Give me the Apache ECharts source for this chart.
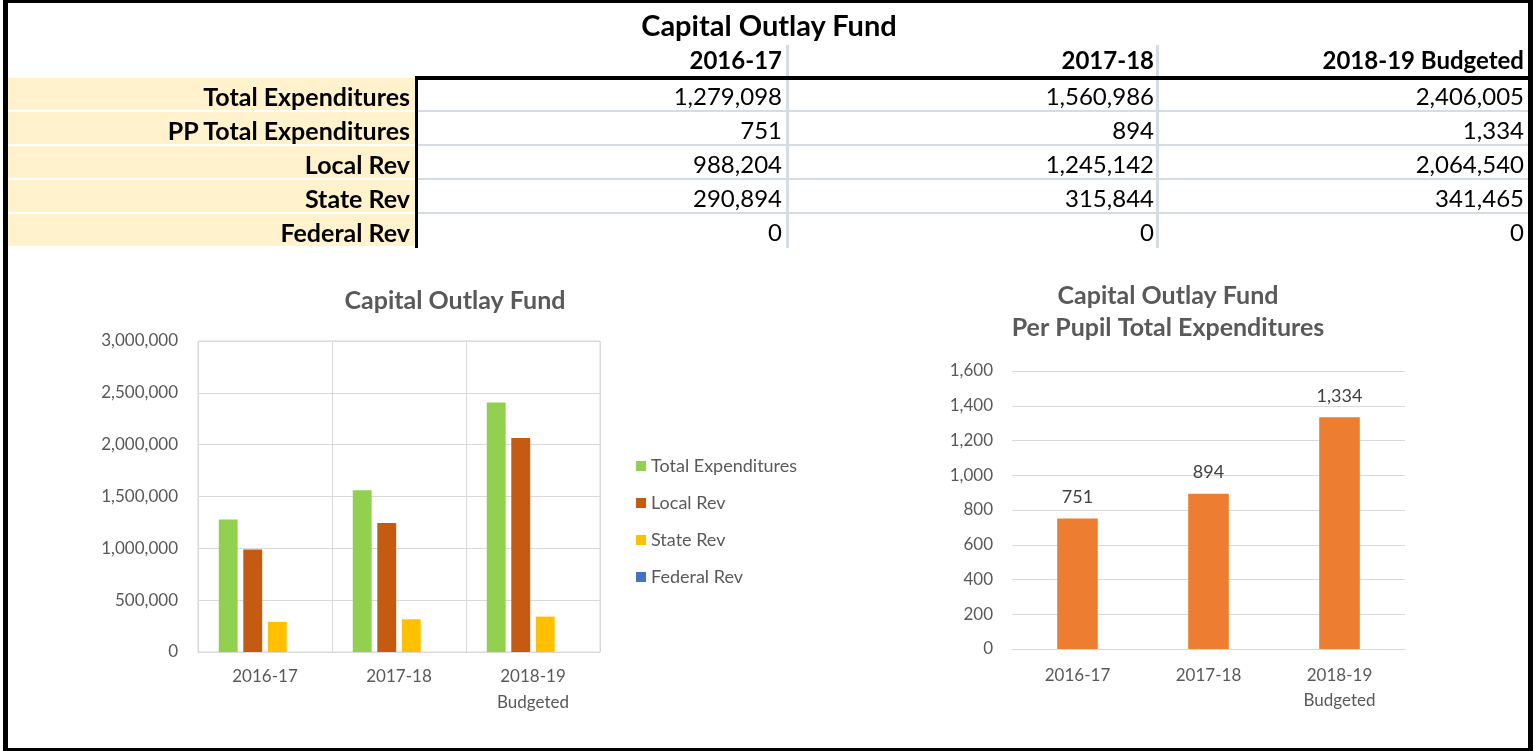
<!DOCTYPE html>
<html><head><meta charset="utf-8">
<script src="https://cdn.jsdelivr.net/npm/echarts@6/dist/echarts.min.js"></script>
<style>
html,body{margin:0;padding:0;background:#fff;}
#wrap{position:relative;width:1539px;height:751px;overflow:hidden;font-family:Lato,'Open Sans',sans-serif;color:#000;}
#chart{position:absolute;left:0;top:0;width:1539px;height:751px;}
#frame{position:absolute;left:3px;top:0;width:1530px;height:751px;box-sizing:border-box;border:solid #000;border-width:3px 5px 3px 5px;pointer-events:none;}
.abs{position:absolute;}
.txt{position:absolute;white-space:nowrap;line-height:34px;height:34px;}
</style>
</head><body>
<div id="wrap">
<div id="chart"></div>
<div id="table"></div>
<div id="frame"></div>
</div>
<script>
// ---- data ----
const tableTitle = 'Capital Outlay Fund';
const years = ['2016-17', '2017-18', '2018-19 Budgeted'];
const axisCats = ['2016-17', '2017-18', '2018-19\nBudgeted'];
const rowLabels = ['Total Expenditures', 'PP Total Expenditures', 'Local Rev', 'State Rev', 'Federal Rev'];
const totalExp = [1279098, 1560986, 2406005];
const ppTotalExp = [751, 894, 1334];
const localRev = [988204, 1245142, 2064540];
const stateRev = [290894, 315844, 341465];
const federalRev = [0, 0, 0];
const chart1Title = 'Capital Outlay Fund';
const chart2Title = 'Capital Outlay Fund\nPer Pupil Total Expenditures';

const fmt = v => Number(v).toLocaleString('en-US');
const rows = [totalExp, ppTotalExp, localRev, stateRev, federalRev];

// ---- table (HTML) ----
const T = document.getElementById('table');
function add(html, style, cls) {
  const d = document.createElement('div');
  d.className = cls || 'abs';
  Object.assign(d.style, style);
  if (html !== null) d.textContent = html;
  T.appendChild(d);
  return d;
}
const colRight = [782, 1154, 1524];
const rowTop0 = 78, rowH = 34;
// title
add(tableTitle, {left: '519px', width: '500px', top: '8px', textAlign: 'center', fontWeight: '700', fontSize: '29px'}, 'txt');
// header
years.forEach((y, i) => add(y, {right: (1539 - colRight[i]) + 'px', top: '43px', fontWeight: '700', fontSize: '24px'}, 'txt'));
// cream label cells
rowLabels.forEach((l, r) => {
  add(null, {left: '8px', width: '407px', top: (rowTop0 + r * rowH) + 'px', height: (rowH - 2) + 'px', background: '#FFF2CC'});
});
// row separators in data area
for (let r = 1; r < 5; r++) {
  add(null, {left: '418px', width: '1110px', top: (rowTop0 + r * rowH - 2) + 'px', height: '2px', background: '#D6DCE4'});
}
// column separators
[786, 1156].forEach(x => add(null, {left: x + 'px', width: '3px', top: '45px', height: '203px', background: '#D6DCE4'}));
// thick black lines
add(null, {left: '415px', width: '1113px', top: '76px', height: '4px', background: '#000'});
add(null, {left: '415px', width: '3px', top: '76px', height: '172px', background: '#000'});
// labels + values
rowLabels.forEach((l, r) => {
  const top = (rowTop0 + r * rowH + 1) + 'px';
  add(l, {right: (1539 - 410) + 'px', top: top, fontWeight: '700', fontSize: '25px'}, 'txt');
  rows[r].forEach((v, c) => add(fmt(v), {right: (1539 - colRight[c]) + 'px', top: top, fontSize: '24px'}, 'txt'));
});

// ---- charts ----
const grey = '#595959';
const gridCol = '#D9D9D9';
const font = 'Lato';
const chart = echarts.init(document.getElementById('chart'), null, {renderer: 'canvas'});
chart.setOption({
  animation: false,
  textStyle: {fontFamily: font},
  title: [
    {text: chart1Title, left: 450, top: 283, textAlign: 'center',
     textStyle: {fontFamily: font, fontWeight: 'bold', fontSize: 25, color: grey}},
    {text: chart2Title, left: 1163, top: 275, textAlign: 'center',
     textStyle: {fontFamily: font, fontWeight: 'bold', fontSize: 25, color: grey, lineHeight: 32}}
  ],
  legend: {
    data: ['Total Expenditures', 'Local Rev', 'State Rev', 'Federal Rev'],
    orient: 'vertical', left: 631, top: 452, itemWidth: 10, itemHeight: 10, itemGap: 19,
    icon: 'rect',
    textStyle: {color: grey, fontSize: 18, fontFamily: font, lineHeight: 18}
  },
  grid: [
    {left: 198, top: 341, width: 402, height: 311, show: true, borderColor: gridCol, borderWidth: 1},
    {left: 1012, top: 371, width: 393, height: 278}
  ],
  xAxis: [
    {type: 'category', gridIndex: 0, data: axisCats,
     axisLine: {lineStyle: {color: gridCol}}, axisTick: {show: false},
     splitLine: {show: true, lineStyle: {color: gridCol}},
     axisLabel: {color: grey, fontSize: 17, margin: 12, lineHeight: 26, fontFamily: font}},
    {type: 'category', gridIndex: 1, data: axisCats,
     axisLine: {lineStyle: {color: gridCol}}, axisTick: {show: false},
     axisLabel: {color: grey, fontSize: 17, margin: 14, lineHeight: 25, fontFamily: font}}
  ],
  yAxis: [
    {type: 'value', gridIndex: 0, min: 0, max: 3000000, interval: 500000,
     axisLine: {show: false}, axisTick: {show: false},
     splitLine: {lineStyle: {color: gridCol}},
     axisLabel: {color: grey, fontSize: 17, margin: 20, formatter: v => fmt(v), fontFamily: font}},
    {type: 'value', gridIndex: 1, min: 0, max: 1600, interval: 200,
     axisLine: {show: false}, axisTick: {show: false},
     splitLine: {lineStyle: {color: gridCol}},
     axisLabel: {color: grey, fontSize: 17, margin: 19, formatter: v => fmt(v), fontFamily: font}}
  ],
  series: [
    {name: 'Total Expenditures', type: 'bar', xAxisIndex: 0, yAxisIndex: 0, data: totalExp,
     itemStyle: {color: '#92D050'}, barGap: '30%', barCategoryGap: '31%'},
    {name: 'Local Rev', type: 'bar', xAxisIndex: 0, yAxisIndex: 0, data: localRev,
     itemStyle: {color: '#C55A11'}, barGap: '30%', barCategoryGap: '31%'},
    {name: 'State Rev', type: 'bar', xAxisIndex: 0, yAxisIndex: 0, data: stateRev,
     itemStyle: {color: '#FFC000'}, barGap: '30%', barCategoryGap: '31%'},
    {name: 'Federal Rev', type: 'bar', xAxisIndex: 0, yAxisIndex: 0, data: federalRev,
     itemStyle: {color: '#4472C4'}, barGap: '30%', barCategoryGap: '31%'},
    {name: 'PP Total Expenditures', type: 'bar', xAxisIndex: 1, yAxisIndex: 1, data: ppTotalExp,
     itemStyle: {color: '#ED7D31'}, barCategoryGap: '69%',
     label: {show: true, position: 'top', distance: 12, color: '#404040', fontSize: 18, fontFamily: font,
             formatter: p => fmt(p.value)}}
  ]
});
</script>
</body></html>
